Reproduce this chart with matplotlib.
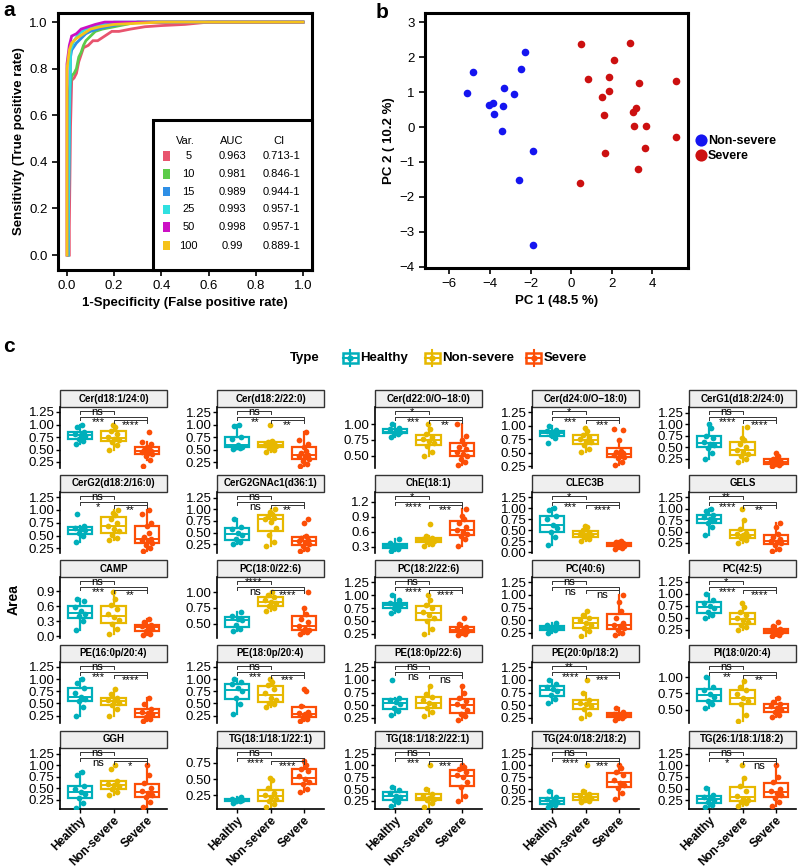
import numpy as np
import matplotlib
matplotlib.use("Agg")
import matplotlib.pyplot as plt
from matplotlib.patches import Rectangle

plt.rcParams['font.family'] = ['Liberation Sans', 'DejaVu Sans']

# ---------------- panel a: ROC data ----------------
roc_vars = ['5', '10', '15', '25', '50', '100']
roc_auc = ['0.963', '0.981', '0.989', '0.993', '0.998', '0.99']
roc_ci = ['0.713-1', '0.846-1', '0.944-1', '0.957-1', '0.957-1', '0.889-1']
roc_colors = ['#e8546e', '#5ccc4a', '#2e8fe6', '#2fe0e0', '#cc10c4', '#f5c21b']
roc_fpr = [
    [0.01, 0.01, 0.015, 0.02, 0.03, 0.04, 0.05, 0.06, 0.07, 0.09, 0.11, 0.13, 0.16, 0.19, 0.22, 0.27, 0.33, 0.40, 0.50, 0.60, 1.0],
    [0.005, 0.01, 0.02, 0.03, 0.04, 0.05, 0.06, 0.07, 0.08, 0.10, 0.12, 0.15, 0.20, 0.25, 0.30, 1.0],
    [0.005, 0.01, 0.015, 0.02, 0.04, 0.06, 0.08, 0.10, 0.13, 0.17, 0.22, 0.30, 1.0],
    [0.005, 0.01, 0.015, 0.03, 0.05, 0.08, 0.11, 0.15, 0.20, 1.0],
    [0.0, 0.0, 0.01, 0.02, 0.04, 0.06, 0.09, 0.12, 0.16, 1.0],
    [0.0, 0.0, 0.01, 0.02, 0.04, 0.07, 0.10, 0.14, 0.20, 0.30, 0.40, 1.0],
]
roc_tpr = [
    [0.0, 0.12, 0.55, 0.75, 0.76, 0.78, 0.83, 0.86, 0.89, 0.90, 0.92, 0.92, 0.94, 0.96, 0.96, 0.97, 0.98, 0.985, 0.99, 1.0, 1.0],
    [0.0, 0.70, 0.77, 0.78, 0.80, 0.85, 0.87, 0.90, 0.92, 0.94, 0.96, 0.97, 0.98, 0.99, 1.0, 1.0],
    [0.0, 0.50, 0.85, 0.88, 0.91, 0.93, 0.95, 0.96, 0.97, 0.98, 0.99, 1.0, 1.0],
    [0.0, 0.60, 0.88, 0.92, 0.95, 0.97, 0.98, 0.99, 1.0, 1.0],
    [0.0, 0.82, 0.90, 0.94, 0.95, 0.97, 0.98, 0.99, 1.0, 1.0],
    [0.0, 0.80, 0.88, 0.91, 0.93, 0.95, 0.97, 0.98, 0.99, 0.995, 1.0, 1.0],
]

# ---------------- panel b: PCA scores ----------------
pc1_nonsevere = [-4.84, -5.11, -2.28, -2.49, -3.31, -2.79, -4.07, -3.84, -3.36, -3.79, -3.41, -1.89, -2.57, -1.89]
pc2_nonsevere = [1.58, 0.97, 2.15, 1.66, 1.12, 0.94, 0.64, 0.70, 0.61, 0.38, -0.12, -0.69, -1.51, -3.39]
pc1_severe = [0.49, 2.90, 2.11, 0.85, 1.87, 3.33, 5.16, 1.89, 1.51, 3.18, 3.05, 1.64, 3.11, 3.67, 5.16, 3.62, 1.66, 3.31, 0.43]
pc2_severe = [2.37, 2.40, 1.93, 1.39, 1.44, 1.27, 1.31, 1.03, 0.86, 0.54, 0.44, 0.36, 0.04, 0.04, -0.29, -0.59, -0.74, -1.21, -1.59]

# ---------------- panel c: boxplots ----------------
groups = ['Healthy', 'Non-severe', 'Severe']
group_colors = ['#00AFBB', '#E7B800', '#FC4E07']
titles = ['Cer(d18:1/24:0)', 'Cer(d18:2/22:0)', 'Cer(d22:0/O\u221218:0)', 'Cer(d24:0/O\u221218:0)', 'CerG1(d18:2/24:0)',
          'CerG2(d18:2/16:0)', 'CerG2GNAc1(d36:1)', 'ChE(18:1)', 'CLEC3B', 'GELS',
          'CAMP', 'PC(18:0/22:6)', 'PC(18:2/22:6)', 'PC(40:6)', 'PC(42:5)',
          'PE(16:0p/20:4)', 'PE(18:0p/20:4)', 'PE(18:0p/22:6)', 'PE(20:0p/18:2)', 'PI(18:0/20:4)',
          'GGH', 'TG(18:1/18:1/22:1)', 'TG(18:1/18:2/22:1)', 'TG(24:0/18:2/18:2)', 'TG(26:1/18:1/18:2)']
healthy = [
    [0.62, 0.68, 0.72, 0.78, 0.80, 0.82, 0.85, 0.95, 1.0],
    [0.52, 0.53, 0.55, 0.56, 0.60, 0.72, 0.75, 0.97, 1.0],
    [0.80, 0.84, 0.86, 0.88, 0.89, 0.92, 0.95, 1.0],
    [0.68, 0.78, 0.83, 0.86, 0.88, 0.90, 0.92, 1.0],
    [0.25, 0.38, 0.48, 0.55, 0.58, 0.62, 0.70, 0.75, 0.92, 1.0],
    [0.38, 0.50, 0.55, 0.60, 0.62, 0.65, 0.68, 0.92],
    [0.25, 0.30, 0.35, 0.45, 0.50, 0.58, 0.62, 0.80],
    [0.22, 0.26, 0.30, 0.32, 0.34, 0.37, 0.45],
    [0.17, 0.35, 0.45, 0.55, 0.62, 0.75, 0.82, 0.95, 1.0],
    [0.42, 0.60, 0.68, 0.75, 0.78, 0.82, 0.86, 0.95, 1.0],
    [0.12, 0.30, 0.40, 0.45, 0.50, 0.58, 0.70, 0.75],
    [0.38, 0.42, 0.48, 0.55, 0.58, 0.62, 0.68],
    [0.65, 0.72, 0.76, 0.79, 0.81, 0.84, 0.90, 1.0],
    [0.25, 0.30, 0.33, 0.35, 0.37, 0.40, 0.45],
    [0.50, 0.55, 0.62, 0.70, 0.74, 0.80, 0.88, 1.0],
    [0.25, 0.42, 0.55, 0.60, 0.64, 0.72, 0.82, 0.92, 1.0],
    [0.28, 0.48, 0.62, 0.75, 0.82, 0.90, 0.93, 1.0],
    [0.30, 0.38, 0.45, 0.52, 0.56, 0.60, 0.65, 1.0],
    [0.55, 0.62, 0.70, 0.78, 0.82, 0.86, 0.92, 1.0],
    [0.52, 0.58, 0.64, 0.70, 0.74, 0.80, 0.85, 1.0],
    [0.08, 0.18, 0.28, 0.38, 0.42, 0.48, 0.55, 0.78, 0.85],
    [0.14, 0.16, 0.17, 0.18, 0.19, 0.20, 0.23],
    [0.15, 0.22, 0.28, 0.34, 0.36, 0.42, 0.48, 0.55],
    [0.12, 0.16, 0.20, 0.23, 0.25, 0.30, 0.33, 0.47],
    [0.10, 0.15, 0.20, 0.26, 0.29, 0.32, 0.36, 0.52],
]
nonsevere = [
    [0.50, 0.60, 0.65, 0.70, 0.72, 0.75, 0.82, 0.88, 0.95, 1.0],
    [0.46, 0.50, 0.54, 0.57, 0.58, 0.60, 0.63, 0.66, 0.68, 1.0],
    [0.50, 0.55, 0.65, 0.70, 0.74, 0.76, 0.80, 0.85, 0.92, 1.0],
    [0.52, 0.58, 0.65, 0.70, 0.72, 0.76, 0.80, 0.84, 0.90, 0.97],
    [0.18, 0.25, 0.32, 0.36, 0.40, 0.44, 0.50, 0.56, 0.65, 0.70, 0.93],
    [0.42, 0.45, 0.52, 0.58, 0.62, 0.68, 0.75, 0.82, 0.90, 0.95, 1.0],
    [0.20, 0.30, 0.45, 0.60, 0.72, 0.78, 0.82, 0.86, 0.90, 0.95, 1.0],
    [0.32, 0.36, 0.39, 0.41, 0.43, 0.45, 0.48, 0.52, 0.75],
    [0.25, 0.30, 0.34, 0.38, 0.40, 0.42, 0.45, 0.50, 0.58, 0.60],
    [0.25, 0.32, 0.36, 0.40, 0.42, 0.45, 0.48, 0.55, 0.75, 1.0],
    [0.05, 0.15, 0.25, 0.32, 0.38, 0.45, 0.55, 0.62, 0.75, 0.88],
    [0.70, 0.74, 0.78, 0.82, 0.85, 0.88, 0.92, 0.95, 1.0],
    [0.25, 0.35, 0.50, 0.56, 0.62, 0.68, 0.75, 0.80, 0.90, 1.0],
    [0.18, 0.28, 0.34, 0.40, 0.45, 0.50, 0.55, 0.60, 0.68],
    [0.25, 0.30, 0.36, 0.42, 0.45, 0.50, 0.56, 0.62, 0.72, 0.80],
    [0.25, 0.38, 0.46, 0.52, 0.55, 0.58, 0.62, 0.70, 0.80],
    [0.42, 0.48, 0.52, 0.58, 0.62, 0.72, 0.80, 0.88, 0.95, 1.0],
    [0.28, 0.36, 0.44, 0.50, 0.55, 0.60, 0.66, 0.72, 0.88],
    [0.25, 0.32, 0.42, 0.48, 0.52, 0.55, 0.60, 0.75, 1.0],
    [0.32, 0.42, 0.58, 0.64, 0.68, 0.74, 0.80, 0.85, 0.95],
    [0.35, 0.42, 0.48, 0.54, 0.56, 0.60, 0.65, 0.92, 1.0],
    [0.07, 0.12, 0.16, 0.20, 0.22, 0.25, 0.28, 0.36, 0.48, 0.52],
    [0.12, 0.20, 0.26, 0.30, 0.32, 0.36, 0.40, 0.50, 1.0],
    [0.22, 0.25, 0.28, 0.31, 0.33, 0.36, 0.40, 0.46, 1.0],
    [0.12, 0.18, 0.22, 0.26, 0.28, 0.34, 0.45, 0.55, 0.72, 1.0],
]
severe = [
    [0.17, 0.30, 0.38, 0.42, 0.44, 0.46, 0.48, 0.50, 0.53, 0.56, 0.62, 0.65, 0.85],
    [0.18, 0.22, 0.28, 0.32, 0.35, 0.38, 0.40, 0.43, 0.47, 0.55, 0.62, 0.70, 0.85],
    [0.35, 0.40, 0.45, 0.50, 0.53, 0.56, 0.60, 0.64, 0.68, 0.75, 0.82, 1.0],
    [0.28, 0.33, 0.40, 0.43, 0.45, 0.47, 0.49, 0.51, 0.53, 0.74, 0.92, 0.95],
    [0.10, 0.12, 0.14, 0.16, 0.18, 0.20, 0.22, 0.25, 0.30, 0.38],
    [0.20, 0.25, 0.32, 0.36, 0.40, 0.42, 0.44, 0.48, 0.55, 0.68, 0.75, 0.92, 1.0],
    [0.10, 0.15, 0.22, 0.26, 0.29, 0.31, 0.34, 0.38, 0.42, 0.70, 0.78],
    [0.32, 0.45, 0.52, 0.56, 0.60, 0.64, 0.70, 0.78, 0.85, 0.92, 1.05],
    [0.08, 0.10, 0.13, 0.15, 0.16, 0.18, 0.20, 0.22, 0.25],
    [0.08, 0.12, 0.20, 0.24, 0.27, 0.30, 0.33, 0.38, 0.45, 0.60, 0.68],
    [0.02, 0.05, 0.10, 0.14, 0.18, 0.20, 0.22, 0.28, 0.35],
    [0.33, 0.36, 0.38, 0.40, 0.42, 0.46, 0.52, 0.58, 0.65, 0.74, 1.0],
    [0.22, 0.25, 0.28, 0.30, 0.32, 0.35, 0.38, 0.45, 0.55],
    [0.20, 0.25, 0.30, 0.34, 0.38, 0.41, 0.45, 0.55, 0.68, 0.85, 1.0],
    [0.12, 0.15, 0.18, 0.20, 0.22, 0.24, 0.27, 0.32, 0.42],
    [0.15, 0.18, 0.22, 0.28, 0.30, 0.33, 0.38, 0.48, 0.62],
    [0.15, 0.18, 0.22, 0.26, 0.28, 0.30, 0.33, 0.45, 0.75, 0.80],
    [0.20, 0.28, 0.32, 0.40, 0.48, 0.52, 0.58, 0.64, 0.75, 0.88],
    [0.20, 0.24, 0.27, 0.29, 0.31, 0.33, 0.36, 0.45],
    [0.38, 0.42, 0.46, 0.50, 0.52, 0.55, 0.58, 0.62, 0.68],
    [0.10, 0.20, 0.30, 0.36, 0.40, 0.44, 0.50, 0.62, 0.78, 1.0],
    [0.30, 0.35, 0.42, 0.46, 0.50, 0.55, 0.62, 0.66, 0.72, 0.78],
    [0.25, 0.35, 0.55, 0.65, 0.75, 0.80, 0.86, 0.92, 0.96, 1.0],
    [0.30, 0.42, 0.52, 0.58, 0.62, 0.70, 0.80, 0.86, 0.95, 1.0],
    [0.12, 0.22, 0.30, 0.36, 0.40, 0.44, 0.50, 0.65, 0.75, 1.0],
]
# significance labels: (Healthy vs Non-severe, Healthy vs Severe, Non-severe vs Severe)
sig = [('ns', '***', '****'), ('ns', '**', '**'), ('*', '***', '**'), ('*', '***', '***'), ('ns', '****', '****'),
       ('ns', '*', '**'), ('ns', 'ns', '**'), ('*', '****', '***'), ('*', '***', '****'), ('**', '****', '**'),
       ('ns', '***', '**'), ('****', 'ns', '****'), ('ns', '****', '****'), ('ns', 'ns', 'ns'), ('*', '****', '****'),
       ('ns', '***', '****'), ('ns', '***', '***'), ('ns', 'ns', 'ns'), ('**', '****', '***'), ('ns', '**', '**'),
       ('ns', 'ns', '*'), ('ns', '****', '****'), ('ns', '***', '***'), ('ns', '****', '***'), ('ns', '*', 'ns')]
t25 = [0.25, 0.50, 0.75, 1.00, 1.25]
yticks = [t25, t25, [0.50, 0.75, 1.00], t25, t25,
          t25, t25, [0.3, 0.6, 0.9, 1.2], [0.0, 0.25, 0.5, 0.75, 1.0, 1.25], t25,
          [0.0, 0.3, 0.6, 0.9], [0.50, 0.75, 1.00], t25, t25, t25,
          t25, t25, t25, t25, [0.50, 0.75, 1.00],
          t25, [0.25, 0.50, 0.75], t25, t25, t25]
ylims = [(0.13, 1.35), (0.14, 1.35), (0.30, 1.28), (0.22, 1.35), (0.05, 1.37),
         (0.16, 1.35), (0.06, 1.37), (0.17, 1.40), (-0.02, 1.37), (0.03, 1.37),
         (-0.03, 1.18), (0.27, 1.24), (0.17, 1.35), (0.15, 1.35), (0.08, 1.35),
         (0.10, 1.35), (0.10, 1.35), (0.15, 1.35), (0.15, 1.35), (0.29, 1.24),
         (0.05, 1.37), (0.04, 0.98), (0.08, 1.37), (0.08, 1.37), (0.06, 1.37)]

W, H = 798, 868
fig = plt.figure(figsize=(W / 100, H / 100), dpi=100)


def px_axes(left, top, right, bottom):
    return fig.add_axes([left / W, 1 - bottom / H, (right - left) / W, (bottom - top) / H])


# ================= panel a =================
ax = px_axes(58, 13, 312, 270)
for fpr, tpr, col in zip(roc_fpr, roc_tpr, roc_colors):
    ax.plot(fpr, tpr, color=col, lw=2, solid_joinstyle='miter')
ax.set_xlim(-0.038, 1.038)
ax.set_ylim(-0.064, 1.039)
ax.set_xticks([0, 0.2, 0.4, 0.6, 0.8, 1.0])
ax.set_yticks([0, 0.2, 0.4, 0.6, 0.8, 1.0])
ax.set_xticklabels(['0.0', '0.2', '0.4', '0.6', '0.8', '1.0'])
ax.set_yticklabels(['0.0', '0.2', '0.4', '0.6', '0.8', '1.0'])
for s in ax.spines.values():
    s.set_linewidth(2.2)
ax.tick_params(length=4, width=1.2, labelsize=9.5, direction='out')
ax.set_xlabel('1-Specificity (False positive rate)', fontsize=9.5, fontweight='bold', labelpad=3)
ax.set_ylabel('Sensitivity (True positive rate)', fontsize=9.5, fontweight='bold', labelpad=3)
ax.add_patch(Rectangle((0.365, -0.064), 1.038 - 0.365, 0.58 + 0.064, fc='white', ec='black',
                       lw=2.2, zorder=5, clip_on=False))
hy = 0.49
ax.text(0.46, hy, 'Var.', fontsize=8, zorder=6, va='center')
ax.text(0.70, hy, 'AUC', fontsize=8, zorder=6, va='center', ha='center')
ax.text(0.90, hy, 'CI', fontsize=8, zorder=6, va='center', ha='center')
row_y = [0.425, 0.348, 0.272, 0.197, 0.12, 0.04]
for v, a_, c_, col, yy in zip(roc_vars, roc_auc, roc_ci, roc_colors, row_y):
    ax.add_patch(Rectangle((0.405, yy - 0.02), 0.03, 0.04, fc=col, ec='none', zorder=6))
    ax.text(0.515, yy, v, fontsize=8, zorder=6, va='center', ha='center')
    ax.text(0.70, yy, a_, fontsize=8, zorder=6, va='center', ha='center')
    ax.text(0.91, yy, c_, fontsize=8, zorder=6, va='center', ha='center')
fig.text(3 / W, 1 - 11 / H, 'a', fontsize=15, fontweight='bold', va='center')

# ================= panel b =================
bx = px_axes(425, 13, 688, 268)
bx.scatter(pc1_nonsevere, pc2_nonsevere, s=30, color='#1515f0', lw=0, label='Non-severe')
bx.scatter(pc1_severe, pc2_severe, s=30, color='#cc1010', lw=0, label='Severe')
bx.set_xlim(-7.2, 5.76)
bx.set_ylim(-4.04, 3.27)
bx.set_xticks([-6, -4, -2, 0, 2, 4])
bx.set_yticks([-4, -3, -2, -1, 0, 1, 2, 3])
for s in bx.spines.values():
    s.set_linewidth(2.2)
bx.tick_params(length=4, width=1.2, labelsize=9.5, direction='out')
bx.set_xlabel('PC 1 (48.5 %)', fontsize=9.5, fontweight='bold', labelpad=3)
bx.set_ylabel('PC 2 ( 10.2 %)', fontsize=9.5, fontweight='bold', labelpad=3)
leg = bx.legend(loc='center left', bbox_to_anchor=(1.0, 0.47), frameon=False, markerscale=1.6,
                handletextpad=0.1, borderaxespad=0.1, labelspacing=0.25, handlelength=1.0,
                prop={'weight': 'bold', 'size': 9})
fig.text(376 / W, 1 - 12 / H, 'b', fontsize=15, fontweight='bold', va='center')

# ================= panel c =================
fig.text(3 / W, 1 - 347 / H, 'c', fontsize=15, fontweight='bold', va='center')
lg = px_axes(280, 346, 610, 370)
lg.set_xlim(280, 610)
lg.set_ylim(370, 346)
lg.axis('off')
lg.text(290, 358, 'Type', fontsize=9.5, fontweight='bold', va='center')
for gx, name, col in zip([350, 432, 534], groups, group_colors):
    lg.plot([gx, gx], [350, 366], color=col, lw=1.5)
    lg.add_patch(Rectangle((gx - 7.5, 353), 15, 10, fc='white', ec=col, lw=1.8))
    lg.plot([gx - 7.5, gx + 7.5], [358, 358], color=col, lw=1.5)
    lg.plot([gx], [358], 'o', color=col, ms=3.5)
    lg.text(gx + 10, 358, name, fontsize=9.5, fontweight='bold', va='center')

col_left = [60, 217, 375, 532, 689]
strip_top = [390, 475, 560, 645, 731]
jit = np.array([-0.12, 0.09, -0.04, 0.15, 0.02, -0.16, 0.11, -0.08, 0.05, -0.01, 0.13, -0.14, 0.07])
strip_h, ax_h, ax_w = 17, 61, 107

for i, title in enumerate(titles):
    r, c = divmod(i, 5)
    top = strip_top[r] + strip_h
    cx = px_axes(col_left[c], top, col_left[c] + ax_w, top + ax_h)
    data = [healthy[i], nonsevere[i], severe[i]]
    bp = cx.boxplot(data, positions=[1, 2, 3], widths=0.72, patch_artist=True, showfliers=False,
                    showcaps=False, whis=1.5)
    for k, col in enumerate(group_colors):
        bp['boxes'][k].set(facecolor='white', edgecolor=col, linewidth=1.6)
        bp['medians'][k].set(color=col, linewidth=1.4)
        for w in bp['whiskers'][2 * k:2 * k + 2]:
            w.set(color=col, linewidth=1.6)
        vals = np.array(data[k])
        cx.scatter(k + 1 + jit[:len(vals)], vals, s=17, color=col, lw=0, zorder=3)
    cx.set_xlim(0.4, 3.6)
    cx.set_ylim(*ylims[i])
    cx.set_yticks(yticks[i])
    if yticks[i][0] == 0.3 or yticks[i][1] == 0.3:
        cx.set_yticklabels(['%.1f' % t for t in yticks[i]])
    else:
        cx.set_yticklabels(['%.2f' % t for t in yticks[i]])
    cx.tick_params(axis='y', length=3, width=1, labelsize=9.5, pad=1)
    cx.spines['top'].set_visible(False)
    cx.spines['right'].set_visible(False)
    cx.spines['left'].set_linewidth(1.2)
    if r == 4:
        cx.spines['bottom'].set_linewidth(1.2)
        cx.set_xticks([1, 2, 3])
        cx.set_xticklabels(groups, rotation=45, ha='right', va='top', rotation_mode='anchor',
                           fontsize=8.5, fontweight='bold')
        cx.tick_params(axis='x', length=3, width=1, pad=1)
    else:
        cx.spines['bottom'].set_visible(False)
        cx.set_xticks([])
    # strip
    cx.add_patch(Rectangle((0, 1), 1, strip_h / ax_h, transform=cx.transAxes, fc='#efefef',
                           ec='#333333', lw=1, clip_on=False))
    cx.text(0.5, 1 + strip_h / ax_h / 2, title, transform=cx.transAxes, ha='center', va='center',
            fontsize=7, fontweight='bold')
    # brackets
    t = cx.get_xaxis_transform()
    for (x1, x2, yb), lab, (lx, ly) in zip([(1, 2, 0.93), (1, 3, 0.83), (2, 3, 0.78)], sig[i],
                                         [(1.5, 0.92), (1.55, 0.76), (2.5, 0.70)]):
        cx.plot([x1, x1, x2, x2], [yb - 0.04, yb, yb, yb - 0.04], transform=t, color='#333333',
                lw=0.7, clip_on=False, zorder=4)
        cx.text(lx, ly, lab, transform=t, ha='center', va='center', fontsize=8, zorder=5)

fig.text(14 / W, 1 - 600 / H, 'Area', rotation=90, fontsize=10, fontweight='bold', ha='center', va='center')

fig.savefig('out.png', dpi=100)
